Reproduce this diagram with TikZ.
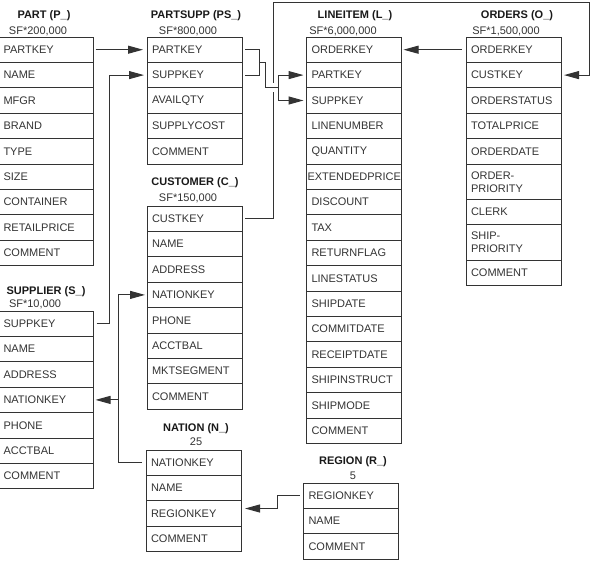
\documentclass[tikz,border=0pt]{standalone}
\usepackage{fontspec}
\setmainfont{Liberation Sans}
\usetikzlibrary{arrows.meta,calc,positioning}
\definecolor{ink}{HTML}{333333}
\tikzset{
  fld/.style={rectangle,draw=ink,line width=1pt,text=ink,minimum height=25.4pt,
    text width=85pt,inner xsep=5pt,inner ysep=0pt,outer sep=0pt,align=left,
    font=\fontsize{11}{13}\selectfont},
  ttl/.style={font=\fontsize{11}{13}\selectfont\bfseries,text=black!90,inner sep=0pt},
  sf/.style={font=\fontsize{11}{13}\selectfont,text=ink,inner sep=0pt},
  lnk/.style={draw=ink,line width=1pt},
  fk/.style={lnk,-{Triangle[length=15pt,width=8pt]}},
}
\begin{document}
\begin{tikzpicture}[x=1pt,y=-1pt]
\useasboundingbox (0,0) rectangle (594,568);
% ---------------- part
\node[ttl] (pT) at (44,16) {PART (P\_)}; \node[sf] (pSF) at (38,31) {SF*200,000};
\node[fld,anchor=north west] (p1) at (-1.5,37) {PARTKEY};
\node[fld,below=0pt of p1] (p2) {NAME}; \node[fld,below=0pt of p2] (p3) {MFGR};
\node[fld,below=0pt of p3] (p4) {BRAND}; \node[fld,below=0pt of p4] (p5) {TYPE};
\node[fld,below=0pt of p5] (p6) {SIZE}; \node[fld,below=0pt of p6] (p7) {CONTAINER};
\node[fld,below=0pt of p7] (p8) {RETAILPRICE}; \node[fld,below=0pt of p8] (p9) {COMMENT};
% ---------------- partsupp
\node[ttl] (psT) at (196,16) {PARTSUPP (PS\_)}; \node[sf] (psSF) at (188,31) {SF*800,000};
\node[fld,anchor=north west] (ps1) at (147,37) {PARTKEY};
\node[fld,below=0pt of ps1] (ps2) {SUPPKEY}; \node[fld,below=0pt of ps2] (ps3) {AVAILQTY};
\node[fld,below=0pt of ps3] (ps4) {SUPPLYCOST}; \node[fld,below=0pt of ps4] (ps5) {COMMENT};
% ---------------- lineitem
\node[ttl] (lT) at (355,16) {LINEITEM (L\_)}; \node[sf] (lSF) at (343,31) {SF*6,000,000};
\node[fld,anchor=north west] (l1) at (306.5,37) {ORDERKEY};
\node[fld,below=0pt of l1] (l2) {PARTKEY}; \node[fld,below=0pt of l2] (l3) {SUPPKEY};
\node[fld,below=0pt of l3] (l4) {LINENUMBER}; \node[fld,below=0pt of l4] (l5) {QUANTITY};
\node[fld,inner xsep=1pt,text width=93pt,below=0pt of l5] (l6) {EXTENDEDPRICE};
\node[fld,below=0pt of l6] (l7) {DISCOUNT}; \node[fld,below=0pt of l7] (l8) {TAX};
\node[fld,below=0pt of l8] (l9) {RETURNFLAG}; \node[fld,below=0pt of l9] (l10) {LINESTATUS};
\node[fld,below=0pt of l10] (l11) {SHIPDATE}; \node[fld,below=0pt of l11] (l12) {COMMITDATE};
\node[fld,below=0pt of l12] (l13) {RECEIPTDATE}; \node[fld,below=0pt of l13] (l14) {SHIPINSTRUCT};
\node[fld,below=0pt of l14] (l15) {SHIPMODE}; \node[fld,below=0pt of l15] (l16) {COMMENT};
% ---------------- orders
\node[ttl] (oT) at (517,16) {ORDERS (O\_)}; \node[sf] (oSF) at (506,31) {SF*1,500,000};
\node[fld,anchor=north west] (o1) at (466,37) {ORDERKEY};
\node[fld,below=0pt of o1] (o2) {CUSTKEY}; \node[fld,below=0pt of o2] (o3) {ORDERSTATUS};
\node[fld,below=0pt of o3] (o4) {TOTALPRICE}; \node[fld,below=0pt of o4] (o5) {ORDERDATE};
\node[fld,minimum height=35.5pt,below=0pt of o5] (o6) {ORDER-\\PRIORITY};
\node[fld,below=0pt of o6] (o7) {CLERK};
\node[fld,minimum height=35.5pt,below=0pt of o7] (o8) {SHIP-\\PRIORITY};
\node[fld,below=0pt of o8] (o9) {COMMENT};
% ---------------- customer
\node[ttl] (cT) at (195,183) {CUSTOMER (C\_)}; \node[sf] (cSF) at (188,198) {SF*150,000};
\node[fld,anchor=north west] (c1) at (147,206) {CUSTKEY};
\node[fld,below=0pt of c1] (c2) {NAME}; \node[fld,below=0pt of c2] (c3) {ADDRESS};
\node[fld,below=0pt of c3] (c4) {NATIONKEY}; \node[fld,below=0pt of c4] (c5) {PHONE};
\node[fld,below=0pt of c5] (c6) {ACCTBAL}; \node[fld,below=0pt of c6] (c7) {MKTSEGMENT};
\node[fld,below=0pt of c7] (c8) {COMMENT};
% ---------------- supplier
\node[ttl] (sT) at (46,292) {SUPPLIER (S\_)}; \node[sf] (sSF) at (35,304) {SF*10,000};
\node[fld,anchor=north west] (s1) at (-1.5,311) {SUPPKEY};
\node[fld,below=0pt of s1] (s2) {NAME}; \node[fld,below=0pt of s2] (s3) {ADDRESS};
\node[fld,below=0pt of s3] (s4) {NATIONKEY}; \node[fld,below=0pt of s4] (s5) {PHONE};
\node[fld,below=0pt of s5] (s6) {ACCTBAL}; \node[fld,below=0pt of s6] (s7) {COMMENT};
% ---------------- nation
\node[ttl] (nT) at (196,429) {NATION (N\_)}; \node[sf] (nSF) at (196,442) {25};
\node[fld,anchor=north west] (n1) at (146,450) {NATIONKEY};
\node[fld,below=0pt of n1] (n2) {NAME}; \node[fld,below=0pt of n2] (n3) {REGIONKEY};
\node[fld,below=0pt of n3] (n4) {COMMENT};
% ---------------- region
\node[ttl] (rT) at (353,462) {REGION (R\_)}; \node[sf] (rSF) at (353,476) {5};
\node[fld,anchor=north west] (r1) at (303.5,483) {REGIONKEY};
\node[fld,below=0pt of r1] (r2) {NAME}; \node[fld,below=0pt of r2] (r3) {COMMENT};
% ---------------- keys
\draw[fk] ([xshift=2pt]p1.east) -- ([xshift=-4pt]ps1.west);
\draw[fk] ([xshift=3pt]s1.east) -- ++(13,0) |- ([xshift=-3pt]ps2.west);
\draw[fk] ([xshift=-4pt]o1.west) -- ([xshift=2pt]l1.east);
\coordinate (top) at (0,2);
\draw[fk] ([xshift=3pt]c1.east) -- ++(28,0) coordinate (cr) -- (cr |- top)
  -| ([xshift=28pt]o2.east) -- ([xshift=3pt]o2.east);
% partsupp keys meet, hop over the custkey line, then fork
\coordinate (fork) at ($(l2.west)!.5!(l3.west)+(-28,0)$);
\draw[lnk,preaction={draw=white,line width=9pt}]
  ($(ps1.east)!.5!(ps2.east)+(17,0)$) -- ++(6,0) |- (fork);
\draw[lnk] ([xshift=3pt]ps1.east) -| ([xshift=17pt]ps2.east) -- ([xshift=3pt]ps2.east);
\draw[fk] (fork) |- ([xshift=-3pt]l2.west);
\draw[fk] (fork) |- ([xshift=-3pt]l3.west);
\draw[fk] ([xshift=-4pt]n1.west) -- ++(-24,0) coordinate (nk) |- ([xshift=-2pt]c4.west);
\draw[fk] (nk |- s4.east) -- ([xshift=2pt]s4.east);
\draw[fk] ([xshift=-4pt]r1.west) -- ++(-22,0) |- ([xshift=4pt,yshift=5pt]n3.east);
\end{tikzpicture}
\end{document}
